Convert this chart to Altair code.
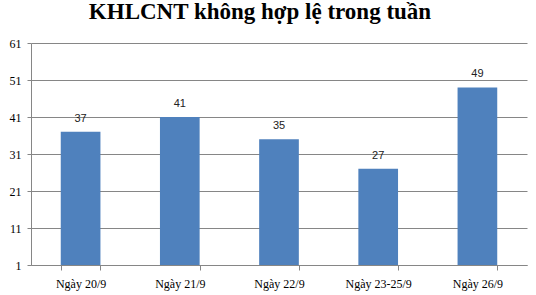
import altair as alt
import pandas as pd

categories = ["Ngày 20/9", "Ngày 21/9", "Ngày 22/9", "Ngày 23-25/9", "Ngày 26/9"]
values = [37, 41, 35, 27, 49]
y_ticks = [1, 11, 21, 31, 41, 51, 61]

df = pd.DataFrame({"cat": categories, "val": values, "base": [1] * len(values)})

x = alt.X("cat:N", sort=categories, title=None,
          scale=alt.Scale(paddingInner=0.6, paddingOuter=0.3),
          axis=alt.Axis(labelAngle=0, labelFont="Liberation Serif", labelFontSize=12,
                        labelColor="#000000", labelPadding=13, tickBand="extent",
                        tickSize=5, tickColor="#868686", domainColor="#868686",
                        labelBaseline="middle", labelOverlap=False))

bars = alt.Chart(df).mark_bar(color="#4F81BD").encode(
    x=x,
    y=alt.Y("val:Q", title=None,
            scale=alt.Scale(domain=[1, 61], zero=False, nice=False),
            axis=alt.Axis(values=y_ticks, labelFont="Liberation Serif", labelFontSize=12,
                          labelColor="#000000", labelPadding=6, tickSize=4,
                          tickColor="#868686", domainColor="#868686",
                          gridColor="#868686", grid=True, labelOverlap=False,
                          labelFlush=False, tickCount=7)),
    y2="base:Q",
)

labels = alt.Chart(df).mark_text(font="Liberation Sans", fontSize=11, color="#222222",
                                  dy=-13).encode(
    x=alt.X("cat:N", sort=categories),
    y="val:Q",
    text="val:Q",
)

chart = (bars + labels).properties(
    width=496, height=222,
    padding={"left": 31, "top": 43, "right": 9, "bottom": 30},
    autosize=alt.AutoSizeParams(type="none"),
    title=alt.TitleParams("KHLCNT không hợp lệ trong tuần", font="Liberation Serif",
                          fontSize=23, fontWeight="bold", color="#000000",
                          anchor="middle", baseline="alphabetic", offset=-5, dx=-19),
).configure_view(stroke=None).configure_axis(labelFontWeight="normal")

chart.save("out.html", embed_options={"renderer": "svg", "actions": False})
